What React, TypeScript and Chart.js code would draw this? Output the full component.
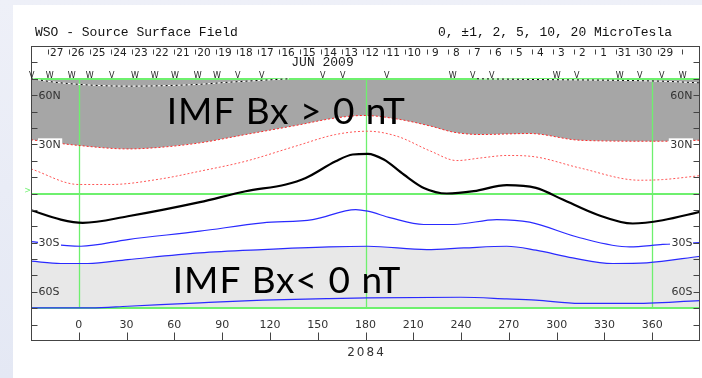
import { useEffect, useRef } from 'react';
import { Chart, registerables } from 'chart.js';

Chart.register(...registerables);

// ---------- data (longitude in degrees, latitude in degrees) ----------
const neutralLon = [-30, -11.3, 2.5, 30.8, 76, 104.8, 130, 142.5, 161.3, 172, 181.4, 191.5, 204, 216.6, 231, 248, 268.7, 287, 303.8, 325.2, 347.8, 366.6, 390];
const neutralLat = [-10.2, -15.9, -17.9, -13.9, -5.3, 1.4, 5.5, 9.5, 19.7, 23.8, 24.2, 20.7, 11.6, 3.4, 0, 1.4, 5.1, 3.4, -3.7, -12.8, -18.3, -16.3, -11.2];

const redUpperLon = [-30, 0, 30.8, 51.5, 76, 104.8, 136.2, 161.3, 178.9, 199.6, 221, 235.4, 252.4, 283, 314.5, 356.6, 366.6, 390];
const redUpperLat = [32.8, 29.3, 27.2, 28.2, 30.9, 36.0, 41.5, 46.1, 47.6, 45.5, 41.1, 37.4, 36.0, 36.6, 32.5, 31.9, 31.9, 32.5];

const redLowerLon = [-30, 0, 20, 51.5, 76, 104.8, 136.2, 161.3, 181.4, 199.6, 221, 237.3, 252.4, 268.7, 287, 314.5, 352.2, 366.6, 390];
const redLowerLat = [15.0, 5.5, 5.5, 8.9, 13.6, 19.7, 28.9, 36.0, 38.0, 35.0, 25.8, 20.1, 21.7, 23.2, 22.3, 15.6, 8.1, 8.5, 10.9];

const blueUpperLon = [-30, 1.3, 30.8, 76, 115.5, 146.9, 173.9, 181.4, 195.9, 216.6, 235.4, 262.4, 283, 314.5, 345.9, 366.6, 390];
const blueUpperLat = [-29.4, -32.2, -28.1, -23.0, -17.9, -15.9, -9.8, -10.8, -14.9, -18.9, -18.9, -15.9, -17.5, -27.0, -32.6, -31.1, -30.0];

const blueMidLon = [-30, -11.3, 5.6, 30.8, 76, 115.5, 157, 181.4, 218.5, 241.7, 268.7, 287, 310.1, 335.2, 356.6, 390];
const blueMidLat = [-41.3, -42.7, -42.7, -40.3, -36.2, -34.2, -32.6, -32.2, -34.2, -33.2, -32.2, -34.6, -39.3, -42.7, -42.3, -38.3];

const blueLowLon = [-30, 7.5, 30.8, 76, 115.5, 157, 181.4, 239.8, 268.7, 287, 314.5, 345.9, 390];
const blueLowLat = [-69.8, -69.8, -68.8, -66.7, -65.1, -64.1, -63.7, -63.3, -64.3, -65.1, -67.1, -67.1, -65.4];

const dashTopLon = [-30, -11.3, 30.8, 73.5, 94.2, 131.9, 190, 250, 283, 366.6, 390];
const dashTopLat: (number | null)[] = [70, 67.5, 65.5, 66.5, 67.9, 70, null, 70, 69.6, 68.5, 67.5];

// day-of-month labels along the top (June 2009, time runs right-to-left)
const dayLabels = ['27', '26', '25', '24', '23', '22', '21', '20', '19', '18', '17', '16', '15', '14', '13', '12', '11', '10', '9', '8', '7', '6', '5', '4', '3', '2', '1', '31', '30', '29'];
const dayLons = [-13.8, -0.6, 12.6, 25.8, 39.0, 52.2, 65.4, 78.6, 91.8, 105.0, 118.2, 131.4, 144.6, 157.8, 171.0, 184.2, 197.4, 210.6, 223.8, 237.0, 250.2, 263.4, 276.6, 289.8, 303.0, 316.2, 329.4, 342.6, 355.8, 369.0];
const daySepLons = [-19.3, -6.1, 7.1, 20.3, 33.5, 46.7, 59.9, 73.1, 86.3, 99.5, 112.7, 125.9, 139.1, 152.3, 165.5, 178.7, 191.9, 205.1, 218.3, 231.5, 244.7, 257.9, 271.1, 284.3, 297.5, 310.7, 323.9, 337.1, 350.3, 363.5, 378.5];

// observation marks above the plot
const markLons = [-29.5, -18.2, -4.4, 6.9, 20.7, 35.2, 47.7, 60.3, 74.7, 86.7, 99.8, 114.9, 153.2, 165.7, 193.3, 234.8, 247.3, 259.3, 300.1, 312.6, 339.6, 352.1, 365.9, 379.2];
const markGlyphs = ['V', 'W', 'W', 'W', 'V', 'W', 'W', 'W', 'W', 'W', 'V', 'V', 'V', 'V', 'V', 'W', 'V', 'V', 'W', 'V', 'W', 'V', 'V', 'W'];

const lonTicks = [0, 30, 60, 90, 120, 150, 180, 210, 240, 270, 300, 330, 360];
const latMinorTicks = [-80, -70, -60, -50, -40, -30, -20, -10, 0, 10, 20, 30, 40, 50, 60, 70, 80];
const latLabelValues = [60, 30, -30, -60];
const latLabelTexts = ['60N', '30N', '30S', '60S'];
const latLabelBg = [null, '#ffffff', '#ffffff', null];

const greenLats = [70, 0, -70];
const greenLons = [0, 180, 360];

const titleLeft = 'WSO - Source Surface Field';
const titleRight = '0, \u00b11, 2, 5, 10, 20 MicroTesla';
const monthLabel = 'JUN 2009';
const monthLon = 153;
const rotationLabel = '2084';
const annotUpper = 'IMF Bx > 0 nT';
const annotUpperPos = [55.2, 42.3];
const annotLower = 'IMF Bx< 0 nT';
const annotLowerPos = [59.0, -60.8];

const GREEN = 'rgb(110, 240, 110)';
const AXIS = '#444';
const LABEL = '#333';

const pts = (lons: number[], lats: (number | null)[]) => lons.map((x, i) => ({ x, y: lats[i] }));

const overlay = {
  id: 'wsoOverlay',
  beforeDatasetsDraw(chart: any) {
    const { ctx, chartArea: a, scales } = chart;
    const x = scales.x, y = scales.y;
    ctx.save();
    ctx.strokeStyle = GREEN;
    ctx.lineWidth = 2;
    for (const lat of greenLats) {
      const py = Math.round(y.getPixelForValue(lat));
      ctx.beginPath();
      ctx.moveTo(a.left, py);
      ctx.lineTo(a.right, py);
      ctx.stroke();
    }
    ctx.lineWidth = 1.3;
    for (const lon of greenLons) {
      const px = Math.round(x.getPixelForValue(lon)) + 0.5;
      ctx.beginPath();
      ctx.moveTo(px, y.getPixelForValue(70));
      ctx.lineTo(px, y.getPixelForValue(-70));
      ctx.stroke();
    }
    ctx.restore();
  },
  afterDatasetsDraw(chart: any) {
    const { ctx, chartArea: a, scales } = chart;
    const x = scales.x, y = scales.y;
    ctx.save();

    // big annotations
    ctx.fillStyle = '#000';
    ctx.font = '37px Lato';
    (ctx as any).letterSpacing = '1px';
    ctx.textAlign = 'left';
    ctx.textBaseline = 'alphabetic';
    ctx.fillText(annotUpper, x.getPixelForValue(annotUpperPos[0]), y.getPixelForValue(annotUpperPos[1]));
    ctx.fillText(annotLower, x.getPixelForValue(annotLowerPos[0]), y.getPixelForValue(annotLowerPos[1]));
    (ctx as any).letterSpacing = '0px';

    // frame
    const L = Math.round(a.left) + 0.5, R = Math.round(a.right) - 0.5;
    const T = Math.round(a.top) + 0.5, B = Math.round(a.bottom) - 0.5;
    ctx.strokeStyle = AXIS;
    ctx.lineWidth = 1;
    ctx.strokeRect(L, T, R - L, B - T);

    // latitude ticks
    ctx.beginPath();
    for (const lat of latMinorTicks) {
      const py = Math.round(y.getPixelForValue(lat)) + 0.5;
      ctx.moveTo(L, py); ctx.lineTo(L + 6, py);
      ctx.moveTo(R, py); ctx.lineTo(R - 6, py);
    }
    // longitude ticks
    for (const lon of lonTicks) {
      const px = Math.round(x.getPixelForValue(lon)) + 0.5;
      ctx.moveTo(px, B); ctx.lineTo(px, B - 8);
    }
    // day separators
    for (const lon of daySepLons) {
      const px = Math.round(x.getPixelForValue(lon)) + 0.5;
      ctx.moveTo(px, T + 3); ctx.lineTo(px, T + 8);
    }
    ctx.stroke();

    // latitude labels
    ctx.font = '11px "DejaVu Sans"';
    ctx.textBaseline = 'middle';
    latLabelValues.forEach((lat, i) => {
      const py = y.getPixelForValue(lat);
      const t = latLabelTexts[i];
      const w = ctx.measureText(t).width;
      const bg = latLabelBg[i];
      if (bg) {
        ctx.fillStyle = bg;
        ctx.fillRect(L + 6.5, py - 6, w + 2, 12);
        ctx.fillRect(R - 6.5 - w - 2, py - 6, w + 2, 12);
      }
      ctx.fillStyle = LABEL;
      ctx.textAlign = 'left';
      ctx.fillText(t, L + 7, py + 0.5);
      ctx.textAlign = 'right';
      ctx.fillText(t, R - 7, py + 0.5);
    });

    // longitude labels
    ctx.textAlign = 'center';
    ctx.fillStyle = LABEL;
    for (const lon of lonTicks) {
      ctx.fillText(String(lon), x.getPixelForValue(lon), B - 15);
    }

    // day labels
    ctx.font = '10.5px "DejaVu Sans"';
    ctx.fillStyle = '#222';
    dayLabels.forEach((d, i) => {
      ctx.fillText(d, x.getPixelForValue(dayLons[i]), T + 6.5);
    });

    // month label
    ctx.font = '13px "Liberation Mono"';
    ctx.fillText(monthLabel, x.getPixelForValue(monthLon), T + 16.5);

    // observation marks
    ctx.font = '8px "DejaVu Sans"';
    ctx.fillStyle = '#222';
    markLons.forEach((lon, i) => {
      ctx.fillText(markGlyphs[i], x.getPixelForValue(lon), T + 29);
    });

    // equator marker
    ctx.fillStyle = GREEN;
    ctx.font = '8px "DejaVu Sans"';
    ctx.textAlign = 'right';
    ctx.fillText('>', L - 0.5, y.getPixelForValue(0) - 3);

    // header and rotation number
    ctx.fillStyle = '#111';
    ctx.font = '13px "Liberation Mono"';
    ctx.textBaseline = 'alphabetic';
    ctx.textAlign = 'left';
    ctx.fillText(titleLeft, 35, 36);
    ctx.textAlign = 'right';
    ctx.fillText(titleRight, 672, 36);

    ctx.fillStyle = LABEL;
    ctx.font = '12px "DejaVu Sans"';
    (ctx as any).letterSpacing = '2px';
    ctx.textAlign = 'center';
    ctx.textBaseline = 'middle';
    ctx.fillText(rotationLabel, x.getPixelForValue(180) + 1, B + 12.5);
    ctx.restore();
  },
};

export default function App() {
  const ref = useRef<HTMLCanvasElement>(null);
  useEffect(() => {
    document.body.style.margin = '0';
    const chart = new Chart(ref.current as HTMLCanvasElement, {
      type: 'line',
      data: {
        datasets: [
          { data: pts(neutralLon, neutralLat), borderColor: '#000', borderWidth: 2.2 },
          { data: pts(redUpperLon, redUpperLat), borderColor: '#ff2a2a', borderWidth: 1, borderDash: [2, 2], fill: { value: 70 }, backgroundColor: '#a6a6a6' },
          { data: pts(redLowerLon, redLowerLat), borderColor: '#ff5555', borderWidth: 1, borderDash: [2, 2] },
          { data: pts(blueUpperLon, blueUpperLat), borderColor: '#2a2aff', borderWidth: 1.2 },
          { data: pts(blueMidLon, blueMidLat), borderColor: '#2a2aff', borderWidth: 1.2, fill: { value: -70 }, backgroundColor: '#e8e8e8' },
          { data: pts(blueLowLon, blueLowLat), borderColor: '#2a2aff', borderWidth: 1.2 },
          { data: pts(dashTopLon, dashTopLat), borderColor: '#000', borderWidth: 1, borderDash: [2, 3] },
          { data: pts(dashTopLon, dashTopLat), borderColor: '#ffffff', borderWidth: 1 },
        ] as any,
      },
      options: {
        animation: false,
        responsive: false,
        devicePixelRatio: 1,
        parsing: true,
        spanGaps: false,
        layout: { padding: { left: 31, right: 2, top: 46, bottom: 37 } },
        elements: {
          point: { radius: 0, hoverRadius: 0 },
          line: { cubicInterpolationMode: 'monotone' },
        },
        scales: {
          x: { type: 'linear', min: -30, max: 390, display: false },
          y: { type: 'linear', min: -90, max: 90, display: false },
        },
        plugins: {
          legend: { display: false },
          tooltip: { enabled: false },
          filler: { drawTime: 'beforeDatasetsDraw' },
        } as any,
        events: [],
      } as any,
      plugins: [overlay],
    });
    return () => chart.destroy();
  }, []);

  return (
    <div style={{ position: 'fixed', left: 0, top: 0, width: 702, height: 378, overflow: 'hidden', background: 'linear-gradient(180deg, #eef0f8 0%, #e4e8f4 100%)' }}>
      <div style={{ position: 'absolute', left: 13, top: 5, right: 0, bottom: 0, background: '#ffffff' }} />
      <canvas ref={ref} width={702} height={378} style={{ position: 'absolute', left: 0, top: 0, width: 702, height: 378 }} />
    </div>
  );
}
